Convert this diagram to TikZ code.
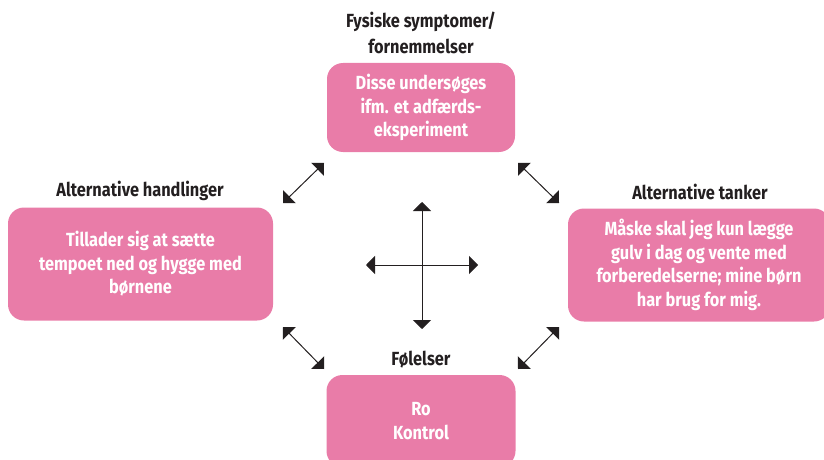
\documentclass[tikz,border=0pt]{standalone}
\usepackage{fontspec}
\setmainfont{Fira Sans}[FakeStretch=0.86]
\usetikzlibrary{arrows.meta}
\definecolor{boxpink}{HTML}{E97CA8}
\definecolor{ink}{HTML}{231F20}
\tikzset{
  pinkbox/.style={fill=boxpink, rounded corners=16pt, text=white, align=center,
    font=\bfseries\fontsize{19}{23.5}\selectfont, inner sep=0pt},
  lbl/.style={text=ink, align=center, font=\bfseries\fontsize{19}{26}\selectfont, inner sep=0pt},
  dbl/.style={draw=ink, line width=1pt, {Triangle[length=9pt,width=18pt]}-{Triangle[length=9pt,width=18pt]}}
}
\begin{document}
\begin{tikzpicture}[x=1pt,y=-1pt]
\useasboundingbox (0,0) rectangle (824,460);
\begin{scope}
\clip (0,0) rectangle (824,460);
\node[pinkbox, minimum width=188pt, minimum height=89pt] (top) at (421,107.5) {Disse undersøges\\ifm. et adfærds-\\eksperiment};
\node[pinkbox, minimum width=265pt, minimum height=113pt] (left) at (140.5,264) {Tillader sig at sætte\\tempoet ned og hygge med\\børnene};
\node[pinkbox, minimum width=262pt, minimum height=113pt] (right) at (699,265) {Måske skal jeg kun lægge\\gulv i dag og vente med\\forberedelserne; mine børn\\har brug for mig.};
\node[pinkbox, minimum width=189pt, minimum height=92pt] (bottom) at (421,421) {Ro\\Kontrol};
\end{scope}
\node[lbl] (ltop) at (421,33) {Fysiske symptomer/\\fornemmelser};
\node[lbl] (lleft) at (140,191) {Alternative handlinger};
\node[lbl] (lright) at (700,192) {Alternative tanker};
\node[lbl] (lbottom) at (421,360) {Følelser};
% diagonal arrows
\coordinate (tl1) at (283,203); \coordinate (tl2) at (324,163);
\coordinate (tr1) at (518,163); \coordinate (tr2) at (559,203);
\coordinate (bl1) at (283,327); \coordinate (bl2) at (324,369);
\coordinate (br1) at (518,369); \coordinate (br2) at (559,327);
\draw[dbl] (tl1) -- (tl2);
\draw[dbl] (tr1) -- (tr2);
\draw[dbl] (bl1) -- (bl2);
\draw[dbl] (br1) -- (br2);
% cross
\coordinate (cu) at (422,202); \coordinate (cd) at (422,329);
\coordinate (cl) at (366,265); \coordinate (cr) at (478,265);
\draw[dbl] (cu) -- (cd);
\draw[dbl] (cl) -- (cr);
\end{tikzpicture}
\end{document}
